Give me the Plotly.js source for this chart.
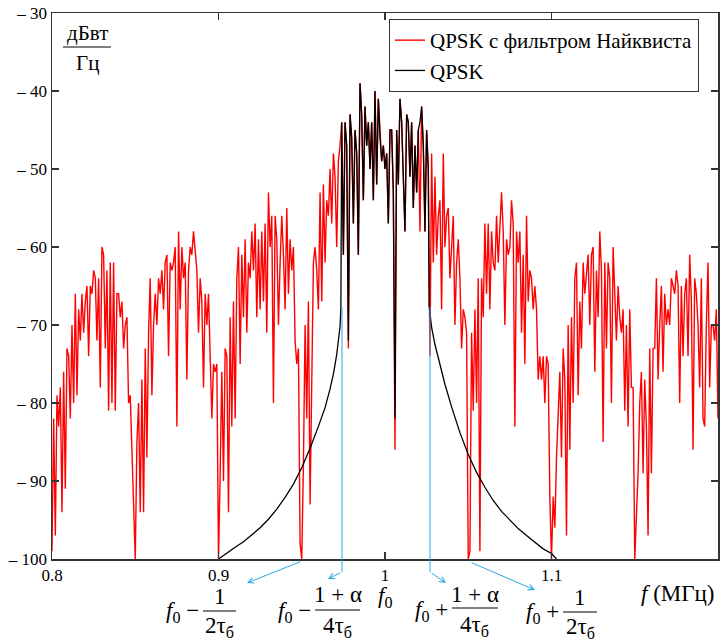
<!DOCTYPE html>
<html>
<head>
<meta charset="utf-8">
<script src="https://cdn.plot.ly/plotly-3.0.1.min.js"></script>
<style>html,body{margin:0;padding:0;background:#fff;}#chart{width:720px;height:641px;}</style>
</head>
<body>
<div id="chart"></div>
<script>
// ---- Data (frequency in MHz, PSD in dBW/Hz) ----
// Red: QPSK with Nyquist filter, sampled from 0.8 MHz every 0.001 MHz
const redStart = 0.8;
const redStep = 0.001;
const redA = [-99,-82,-97,-79,-83,-78,-94,-76,-91,-73,
 -74,-82,-70,-80,-66,-79,-68,-72,-66,-71,
 -67,-65,-74,-65,-66,-63,-64,-72,-64,-78,
 -60,-61,-73,-63,-81,-62,-80,-62,-81,-66,
 -66,-69,-67,-73,-70,-69,-80,-79,-86,-92];
const redB = [-100,-85,-80,-94,-77,-94,-73,-87,-71,-64,
 -79,-70,-66,-70,-64,-66,-63,-68,-62,-61,
 -74,-62,-63,-62,-60,-83,-58,-68,-60,-64,
 -62,-77,-63,-60,-61,-58,-61,-63,-71,-64,
 -67,-78,-66,-70,-66,-73,-82,-75,-76,-75];
const redC = [-100,-89,-76,-90,-73,-74,-94,-69,-83,-67,
 -82,-64,-60,-75,-61,-69,-59,-71,-62,-64,
 -58,-63,-57,-69,-59,-68,-58,-67,-57,-71,
 -53,-60,-56,-80,-56,-59,-70,-62,-56,-61,
 -68,-55,-66,-59,-63,-60,-72,-75,-73,-98];
const redMain = [-100,-88,-70,-82,-67,-93,-78,-62,-60,-63,
 -68,-53,-67,-52,-62,-54,-56,-50,-57,-48,
 -51,-60,-49,-47,-44,-61,-44,-47,-73,-43,
 -46,-57,-45,-48,-61,-39,-43,-54,-42,-47,
 -44,-50,-44,-54,-40,-52,-41,-46,-49,-47,
 -50,-48,-57,-45,-45,-53,-86,-45,-52,-41,
 -44,-51,-58,-43,-44,-51,-44,-55,-47,-53,
 -45,-58,-42,-47,-58,-45,-50,-74,-48,-62,
 -51,-61,-56,-54,-68,-48,-60,-56,-55,-64,
 -60,-56,-70,-62,-59,-64,-73,-68,-69,-71];
const redD = [-100,-99,-71,-81,-68,-80,-64,-99,-64,-69,
 -57,-66,-57,-68,-58,-62,-63,-56,-62,-58,
 -53,-58,-70,-59,-61,-60,-54,-57,-83,-58,
 -62,-58,-71,-61,-75,-56,-67,-63,-64,-68,
 -65,-68,-77,-74,-77,-74,-80,-74,-75,-92];
const redE = [-100,-92,-96,-87,-81,-76,-87,-73,-77,-97,
 -70,-86,-69,-80,-64,-62,-79,-67,-73,-62,
 -66,-63,-61,-70,-61,-60,-76,-63,-69,-58,
 -63,-85,-62,-73,-62,-64,-80,-60,-66,-72,
 -65,-69,-71,-68,-81,-70,-83,-68,-78,-78];
const redF = [-100,-94,-89,-80,-76,-89,-77,-83,-97,-73,
 -89,-73,-73,-64,-77,-70,-65,-76,-66,-70,
 -68,-70,-64,-65,-66,-63,-65,-80,-65,-74,
 -66,-64,-74,-61,-67,-86,-64,-66,-70,-78,
 -64,-82,-83,-70,-62,-78,-70,-70,-72,-68,
 -82];

// Black: plain QPSK
const blackLeftX = [0.900,0.905,0.910,0.915,0.920,0.925,0.930,0.935,0.940,0.945,0.950,0.955,0.960,0.964,0.967,0.969,0.971,0.972,0.973,0.9735];
const blackLeftY = [-100,-99.2,-98.5,-97.8,-96.9,-96.0,-94.9,-93.6,-92.1,-90.4,-88.3,-85.8,-83.0,-80.6,-78.2,-76.3,-73.8,-72.2,-70.2,-67.8];
const blackMidX = [0.974,0.975,0.976,0.977,0.978,0.979,0.980,0.981,0.982,0.983,
 0.984,0.985,0.986,0.987,0.988,0.989,0.990,0.991,0.992,0.993,
 0.994,0.995,0.996,0.997,0.998,0.999,1.000,1.001,1.002,1.003,
 1.004,1.005,1.006,1.007,1.008,1.009,1.010,1.011,1.012,1.013,
 1.014,1.015,1.016,1.017,1.018,1.019,1.020,1.021,1.022,1.023,
 1.024,1.025,1.026];
const blackMidY = [-44,-61,-44,-47,-72,-43,-46,-57,-45,-48,
 -61,-39,-43,-54,-42,-47,-44,-50,-44,-54,
 -40,-52,-41,-46,-49,-47,-50,-48,-57,-45,
 -45,-53,-82,-45,-52,-41,-44,-51,-58,-43,
 -44,-51,-44,-55,-47,-53,-45,-44,-42,-47,
 -58,-45,-50];
const blackRightX = [1.0265,1.027,1.028,1.030,1.033,1.036,1.040,1.045,1.050,1.055,1.060,1.065,1.070,1.075,1.080,1.085,1.090,1.095,1.100,1.103];
const blackRightY = [-67.6,-68.8,-70.3,-72.5,-75.2,-77.6,-80.5,-83.8,-86.6,-88.9,-90.8,-92.5,-93.9,-95.0,-96.1,-97.0,-97.9,-98.7,-99.3,-100];

const xTickVals = [0.8, 0.9, 1, 1.1];
const xTickText = ['0.8', '0.9', '1', '1.1'];
const yTickVals = [-30, -40, -50, -60, -70, -80, -90, -100];
const yTickText = ['– 30', '– 40', '– 50', '– 60', '– 70', '– 80', '– 90', '– 100'];
const seriesNames = ['QPSK с фильтром Найквиста', 'QPSK'];

// ---- Build ----
const redY = [].concat(redA, redB, redC, redMain, redD, redE, redF);
const blackX = [].concat(blackLeftX, blackMidX, blackRightX);
const blackY = [].concat(blackLeftY, blackMidY, blackRightY);

const traces = [
  {type: 'scatter', mode: 'lines', name: seriesNames[0], x0: redStart, dx: redStep, y: redY,
   line: {color: '#ff0000', width: 1.4}},
  {type: 'scatter', mode: 'lines', name: seriesNames[1], x: blackX, y: blackY,
   line: {color: '#000000', width: 1.3}}
];

// pixel -> paper helpers for decorations
const X = px => (px - 52) / 666;
const Y = py => (559 - py) / 546;
const SERIF = 'Liberation Serif';
const BLUE = '#29a8e4';

const annotations = [];
const shapes = [];
function txt(px, py, text, size, anchor) {
  annotations.push({xref: 'paper', yref: 'paper', x: X(px), y: Y(py), text: text, showarrow: false,
    xanchor: anchor || 'center', yanchor: 'middle', font: {family: SERIF, size: size, color: '#000'}});
}
function frac(x0, x1, yLine, num, den, yNum, yDen, size) {
  shapes.push({type: 'line', xref: 'paper', yref: 'paper', x0: X(x0), x1: X(x1), y0: Y(yLine), y1: Y(yLine),
    line: {color: '#000', width: 1}});
  txt((x0 + x1) / 2, yNum, num, size);
  txt((x0 + x1) / 2, yDen, den, size);
}
function arrow(hx, hy, tx, ty) {
  annotations.push({xref: 'paper', yref: 'paper', x: X(hx), y: Y(hy), ax: tx - hx, ay: ty - hy,
    axref: 'pixel', ayref: 'pixel', text: '', showarrow: true, arrowhead: 5, arrowsize: 1.1,
    arrowwidth: 1, arrowcolor: BLUE, standoff: 0, startstandoff: 0});
}
function vline(px, py0, py1) {
  shapes.push({type: 'line', xref: 'paper', yref: 'paper', x0: X(px), x1: X(px), y0: Y(py0), y1: Y(py1),
    line: {color: BLUE, width: 1}});
}

// y-axis unit as a fraction
frac(63, 111, 47, 'дБвт', 'Гц', 33, 63, 21);

// bottom formulas
const FS = 23;
txt(201, 612, '<i>f</i><sub>0</sub> −', FS, 'right');
frac(203, 236, 611, '1', '2τ<sub>б</sub>', 596, 627, FS);
txt(313, 612, '<i>f</i><sub>0</sub> −', FS, 'right');
frac(315, 360, 610, '1 + α', '4τ<sub>б</sub>', 594, 627, FS);
txt(385, 597, '<i>f</i><sub>0</sub>', FS);
txt(450, 611, '<i>f</i><sub>0</sub> +', FS, 'right');
frac(452, 498, 608, '1 + α', '4τ<sub>б</sub>', 594, 626, FS);
txt(561, 613, '<i>f</i><sub>0</sub> +', FS, 'right');
frac(563, 597, 612, '1', '2τ<sub>б</sub>', 597, 628, FS);
txt(639, 593, '<i>f</i> (МГц)', FS, 'left');

// blue pointers
vline(342, 307, 572);
vline(430, 307, 572);
arrow(247, 583, 302, 561);
arrow(328, 579, 342, 572);
arrow(446, 583, 430, 572);
arrow(535, 590, 470, 562);

const axisCommon = {showline: true, linecolor: '#333', linewidth: 1.5, mirror: 'ticks', ticks: 'inside',
  ticklen: 7, tickwidth: 1.5, tickcolor: '#333', showgrid: false, zeroline: false,
  tickfont: {family: SERIF, size: 17, color: '#000'}};

const layout = {
  width: 720, height: 641,
  margin: {l: 52, r: 2, t: 13, b: 82, pad: 0},
  paper_bgcolor: '#fff', plot_bgcolor: '#fff',
  font: {family: SERIF, color: '#000'},
  showlegend: true,
  legend: {x: X(389), y: Y(19), xanchor: 'left', yanchor: 'top', bgcolor: '#fff',
    bordercolor: '#333', borderwidth: 1, font: {family: SERIF, size: 21, color: '#000'},
    tracegroupgap: 0},
  xaxis: Object.assign({}, axisCommon, {range: [0.8, 1.2], tickmode: 'array', tickvals: xTickVals, ticktext: xTickText}),
  yaxis: Object.assign({}, axisCommon, {range: [-100, -30], tickmode: 'array', tickvals: yTickVals, ticktext: yTickText}),
  annotations: annotations,
  shapes: shapes
};

Plotly.newPlot('chart', traces, layout, {displayModeBar: false, staticPlot: true});
</script>
</body>
</html>
